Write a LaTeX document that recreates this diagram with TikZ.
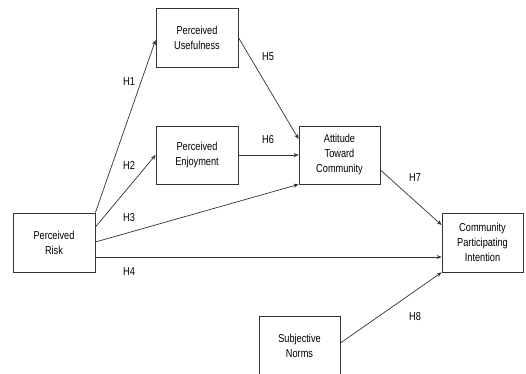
\documentclass[tikz,border=0pt]{standalone}
\usepackage{fontspec}
\setmainfont[FakeStretch=0.8]{Liberation Sans}
\usetikzlibrary{arrows.meta}
\begin{document}
\begin{tikzpicture}[x=1pt,y=-1pt,
  box/.style={draw=black!80,line width=0.8pt,align=center,inner sep=0pt,
    font=\fontsize{11.5}{15}\selectfont,text=black},
  conn/.style={draw=black!80,line width=0.7pt,-{Stealth[length=5pt,width=4pt]}},
  lab/.style={font=\fontsize{11.5}{13}\selectfont,text=black,inner sep=0pt}]
\useasboundingbox (0,0) rectangle (526,373);
\node[box,minimum width=82pt,minimum height=59pt] (pu) at (197,37.5) {Perceived\\Usefulness};
\node[box,minimum width=82pt,minimum height=58pt] (pe) at (197,155) {Perceived\\Enjoyment};
\node[box,minimum width=81pt,minimum height=58pt] (att) at (339.5,155) {Attitude\\Toward\\Community};
\node[box,minimum width=82pt,minimum height=59pt] (risk) at (54,242.5) {Perceived\\Risk};
\node[box,minimum width=81pt,minimum height=59pt] (cpi) at (482.5,242.5) {Community\\Participating\\Intention};
\node[box,minimum width=81pt,minimum height=59pt] (sn) at (299.5,345.5) {Subjective\\Norms};

\draw[conn] (risk.north east) -- ([yshift=-2.5pt]pu.west);
\draw[conn] ([yshift=15.5pt]risk.east) -- (pe.west);
\draw[conn] ([yshift=0.5pt]risk.east) -- (att.south west);
\draw[conn] ([yshift=-14.5pt]risk.east) -- ([yshift=-14.5pt]cpi.west);
\draw[conn] (pu.east) -- ([yshift=16pt]att.west);
\draw[conn] (pe.east) -- (att.west);
\draw[conn] ([yshift=-15pt]att.east) -- ([yshift=17.5pt]cpi.west);
\draw[conn] ([yshift=2.5pt]sn.east) -- (cpi.south west);

\node[lab] (h1) at (129,82) {H1};
\node[lab] (h2) at (129,165) {H2};
\node[lab] (h3) at (129,218) {H3};
\node[lab] (h4) at (129,272) {H4};
\node[lab] (h5) at (268,57) {H5};
\node[lab] (h6) at (268,140) {H6};
\node[lab] (h7) at (415,178) {H7};
\node[lab] (h8) at (415,317) {H8};
\end{tikzpicture}
\end{document}
